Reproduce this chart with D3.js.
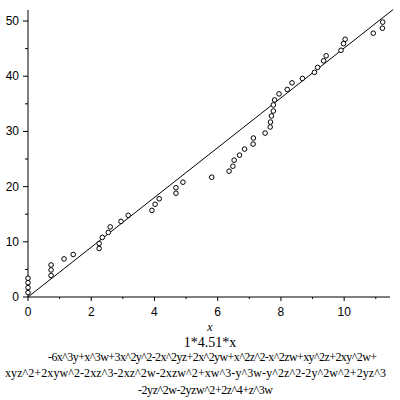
<!DOCTYPE html>
<html><head><meta charset="utf-8">
<script src="https://cdn.jsdelivr.net/npm/d3@7"></script>
<style>body{margin:0;background:#fff}svg{display:block}</style>
</head><body>
<svg id="c" width="400" height="400"></svg>
<script>
const xs = [0,0,0,0,0.73,0.73,0.73,1.14,1.43,2.25,2.25,2.35,2.54,2.6,2.94,3.17,3.92,4.02,4.15,4.68,4.68,4.9,5.81,6.36,6.48,6.52,6.69,6.85,7.12,7.13,7.5,7.66,7.67,7.7,7.76,7.76,7.8,7.94,8.2,8.35,8.68,9.06,9.16,9.35,9.43,9.9,9.98,10.03,10.92,11.21,11.22];
const ys = [0.8,1.7,2.6,3.4,3.9,4.9,5.8,6.9,7.7,8.8,9.7,10.8,11.7,12.7,13.7,14.8,15.7,16.8,17.8,18.8,19.8,20.8,21.7,22.8,23.7,24.8,25.7,26.8,27.7,28.8,29.7,30.8,31.7,32.8,33.7,34.8,35.7,36.8,37.6,38.8,39.6,40.7,41.6,42.8,43.7,44.7,45.9,46.7,47.8,48.7,49.8];
const slope = 4.51;
const lineX = [0, 11.55];
const xMajor = [0,2,4,6,8,10];
const xMinor = [1,3,5,7,9,11];
const yMajor = [0,10,20,30,40,50];
const yMinor = [5,15,25,35,45];
const fitLabel = "1*4.51*x";
const captionLines = [
  "-6x^3y+x^3w+3x^2y^2-2x^2yz+2x^2yw+x^2z^2-x^2zw+xy^2z+2xy^2w+",
  "xyz^2+2xyw^2-2xz^3-2xz^2w-2xzw^2+xw^3-y^3w-y^2z^2-2y^2w^2+2yz^3",
  "-2yz^2w-2yzw^2+2z^4+z^3w"
];

const svg = d3.select("#c");
const x = d3.scaleLinear().domain([0, 11.45]).range([28, 390]);
const y = d3.scaleLinear().domain([0, 52]).range([297, 10]);

// x axis
const gx = svg.append("g").attr("transform","translate(0,297)");
gx.append("line").attr("x1",x(0)).attr("x2",x(11.45)).attr("stroke","#000");
gx.selectAll(".mj").data(xMajor).join("line").attr("x1",d=>x(d)).attr("x2",d=>x(d)).attr("y1",0).attr("y2",4).attr("stroke","#000");
gx.selectAll(".mn").data(xMinor).join("line").attr("class","mn").attr("x1",d=>x(d)).attr("x2",d=>x(d)).attr("y1",0).attr("y2",2).attr("stroke","#000");
gx.selectAll("text").data(xMajor).join("text").attr("x",d=>x(d)).attr("y",19).attr("text-anchor","middle")
  .attr("font-family","Liberation Sans, Arial, sans-serif").attr("font-size",12).text(d=>d);

// y axis
const gy = svg.append("g").attr("transform","translate(28,0)");
gy.append("line").attr("y1",y(0)).attr("y2",y(52)).attr("stroke","#000");
gy.selectAll(".mj").data(yMajor).join("line").attr("y1",d=>y(d)).attr("y2",d=>y(d)).attr("x1",-5).attr("x2",0).attr("stroke","#000");
gy.selectAll(".mn").data(yMinor).join("line").attr("class","mn").attr("y1",d=>y(d)).attr("y2",d=>y(d)).attr("x1",-3).attr("x2",0).attr("stroke","#000");
gy.selectAll("text").data(yMajor).join("text").attr("x",-9).attr("y",d=>y(d)+4).attr("text-anchor","end")
  .attr("font-family","Liberation Sans, Arial, sans-serif").attr("font-size",12).text(d=>d);

// fit line
svg.append("path").datum(lineX).attr("fill","none").attr("stroke","#000").attr("stroke-width",1)
  .attr("d", d3.line().x(d=>x(d)).y(d=>y(slope*d)));

// points
svg.append("g").selectAll("circle").data(xs.map((v,i)=>[v,ys[i]])).join("circle")
  .attr("cx",d=>x(d[0])).attr("cy",d=>y(d[1])).attr("r",2.3)
  .attr("fill","#fff").attr("stroke","#000").attr("stroke-width",1);

// captions
svg.append("text").attr("x",210).attr("y",331).attr("text-anchor","middle")
  .attr("font-family","Liberation Serif, Times New Roman, serif").attr("font-style","italic").attr("font-size",12).text("x");
svg.append("text").attr("x",210).attr("y",347).attr("text-anchor","middle")
  .attr("font-family","Liberation Serif, Times New Roman, serif").attr("font-size",14).text(fitLabel);
const capX = [48, 5, 138];
const capW = [329, 381, 135];
const capY = [361, 377, 394];
svg.append("g").selectAll("text").data(captionLines).join("text")
  .attr("x",(d,i)=>capX[i]).attr("y",(d,i)=>capY[i]).attr("text-anchor","start")
  .attr("textLength",(d,i)=>capW[i]).attr("lengthAdjust","spacing")
  .attr("font-family","Liberation Serif, Times New Roman, serif").attr("font-size",12).text(d=>d);
</script>
</body></html>
